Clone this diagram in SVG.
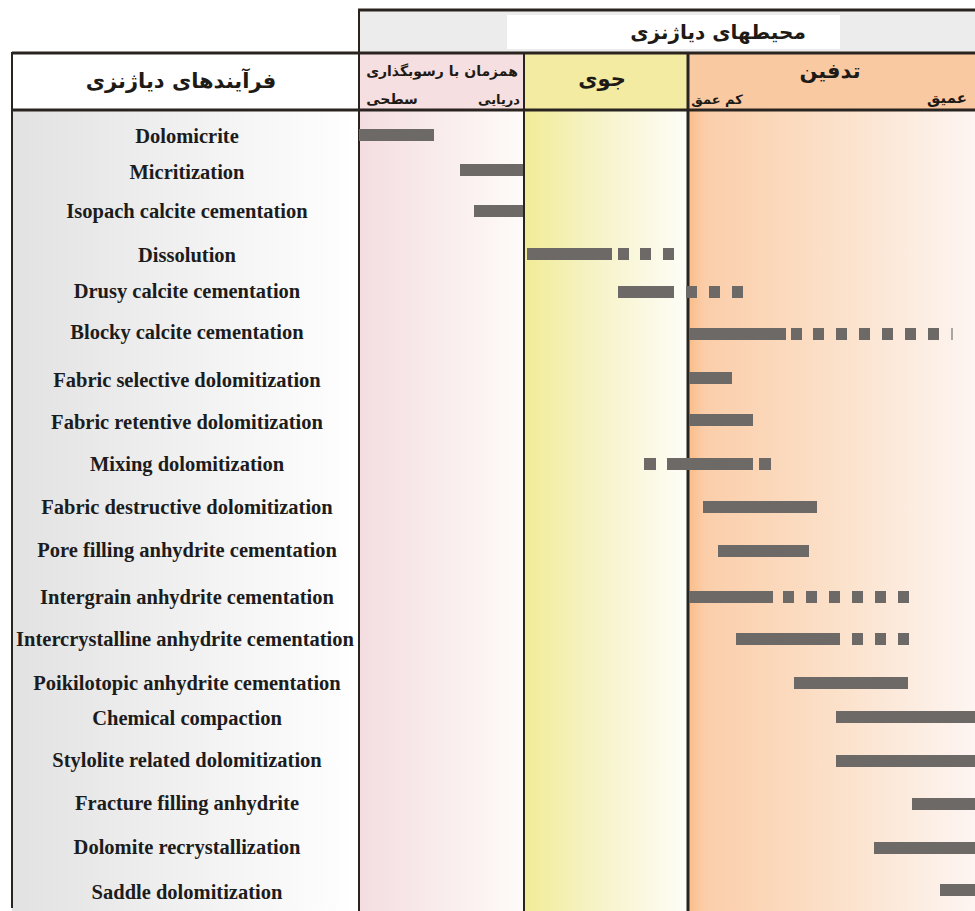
<svg xmlns="http://www.w3.org/2000/svg" width="975" height="911" viewBox="0 0 975 911">
<defs>
<linearGradient id="gLeft" x1="0" y1="0" x2="1" y2="0"><stop offset="0" stop-color="#e2e2e2"/><stop offset="1" stop-color="#ffffff"/></linearGradient>
<linearGradient id="gPink" x1="0" y1="0" x2="1" y2="0"><stop offset="0" stop-color="#f4dde1"/><stop offset="0.5" stop-color="#f9ecec"/><stop offset="1" stop-color="#fefbf9"/></linearGradient>
<linearGradient id="gYellow" x1="0" y1="0" x2="1" y2="0"><stop offset="0" stop-color="#f1ec96"/><stop offset="0.4" stop-color="#f6f2c4"/><stop offset="1" stop-color="#fefdf8"/></linearGradient>
<linearGradient id="gOrange" x1="0" y1="0" x2="1" y2="0"><stop offset="0" stop-color="#fbbd88"/><stop offset="0.06" stop-color="#fbceaa"/><stop offset="0.5" stop-color="#fbe0c8"/><stop offset="1" stop-color="#fdf5f2"/></linearGradient>
</defs>
<style>
.bar{fill:#6c6967}
.lbl{font-family:"Liberation Serif","Times New Roman",serif;font-weight:bold;font-size:20.5px;fill:#1c1c1c;text-anchor:middle}
.fa{font-family:"DejaVu Sans","Noto Sans",sans-serif;font-weight:bold;fill:#1e1a16;text-anchor:middle}
.ln{stroke:#2a2420;fill:none}
</style>
<rect x="0" y="0" width="975" height="911" fill="#ffffff"/>
<g id="backgrounds">
<rect x="12" y="110" width="347" height="801" fill="url(#gLeft)"/>
<rect x="359" y="110" width="165" height="801" fill="url(#gPink)"/>
<rect x="524" y="110" width="164" height="801" fill="url(#gYellow)"/>
<rect x="688" y="110" width="287" height="801" fill="url(#gOrange)"/>
</g>
<g id="header-top">
<rect x="359" y="10" width="616" height="43" fill="#ececec"/>
<rect x="507" y="15" width="333" height="34" fill="#ffffff"/>
<text class="fa" x="718" y="39" font-size="20">محیطهای دیاژنزی</text>
</g>
<g id="header-processes">
<rect x="12" y="53" width="347" height="57" fill="#ffffff"/>
<text class="fa" x="181" y="88" font-size="21">فرآیندهای دیاژنزی</text>
</g>
<g id="header-marine">
<rect x="359" y="53" width="165" height="57" fill="#f6dfe0"/>
<text class="fa" x="442" y="76" font-size="14">همزمان با رسوبگذاری</text>
<text class="fa" x="499" y="104" font-size="13">دریایی</text>
<text class="fa" x="392" y="104" font-size="14">سطحی</text>
</g>
<g id="header-meteoric">
<rect x="524" y="53" width="164" height="57" fill="#f3eba2"/>
<text class="fa" x="602" y="86" font-size="21">جوی</text>
</g>
<g id="header-burial">
<rect x="688" y="53" width="287" height="57" fill="#f9caa2"/>
<text class="fa" x="830" y="78" font-size="21">تدفین</text>
<text class="fa" x="717" y="104" font-size="13">کم عمق</text>
<text class="fa" x="947" y="103" font-size="15">عمیق</text>
</g>
<g id="grid">
<line class="ln" x1="358" y1="10" x2="975" y2="10" stroke-width="3"/>
<line class="ln" x1="12" y1="53" x2="975" y2="53" stroke-width="3"/>
<line class="ln" x1="12" y1="110" x2="975" y2="110" stroke-width="3"/>
<line class="ln" x1="12" y1="52" x2="12" y2="908" stroke-width="2"/>
<line class="ln" x1="359" y1="9" x2="359" y2="911" stroke-width="2"/>
<line class="ln" x1="524" y1="53" x2="524" y2="911" stroke-width="2"/>
<line class="ln" x1="688" y1="53" x2="688" y2="911" stroke-width="3"/>
</g>
<g id="r1"><text class="lbl" x="187" y="143">Dolomicrite</text><rect class="bar" x="359" y="129" width="75" height="12"/></g>
<g id="r2"><text class="lbl" x="187" y="179">Micritization</text><rect class="bar" x="460" y="164" width="63" height="12"/></g>
<g id="r3"><text class="lbl" x="187" y="218">Isopach calcite cementation</text><rect class="bar" x="474" y="205" width="49" height="12"/></g>
<g id="r4"><text class="lbl" x="187" y="262">Dissolution</text><rect class="bar" x="527" y="248" width="85" height="12"/><rect class="bar" x="618" y="248" width="11" height="12"/><rect class="bar" x="640" y="248" width="11" height="12"/><rect class="bar" x="663" y="248" width="11" height="12"/></g>
<g id="r5"><text class="lbl" x="187" y="298">Drusy calcite cementation</text><rect class="bar" x="618" y="286" width="56" height="12"/><rect class="bar" x="686" y="286" width="11" height="12"/><rect class="bar" x="709" y="286" width="11" height="12"/><rect class="bar" x="732" y="286" width="11" height="12"/></g>
<g id="r6"><text class="lbl" x="187" y="339">Blocky calcite cementation</text><rect class="bar" x="689" y="328" width="97" height="12"/><rect class="bar" x="791" y="328" width="11" height="12"/><rect class="bar" x="813" y="328" width="11" height="12"/><rect class="bar" x="836" y="328" width="11" height="12"/><rect class="bar" x="859" y="328" width="11" height="12"/><rect class="bar" x="882" y="328" width="11" height="12"/><rect class="bar" x="905" y="328" width="11" height="12"/><rect class="bar" x="928" y="328" width="11" height="12"/><rect x="951" y="328" width="2" height="12" fill="#a9a5a2"/></g>
<g id="r7"><text class="lbl" x="187" y="387">Fabric selective dolomitization</text><rect class="bar" x="689" y="372" width="43" height="12"/></g>
<g id="r8"><text class="lbl" x="187" y="429">Fabric retentive dolomitization</text><rect class="bar" x="689" y="414" width="64" height="12"/></g>
<g id="r9"><text class="lbl" x="187" y="471">Mixing dolomitization</text><rect class="bar" x="644" y="458" width="12" height="12"/><rect class="bar" x="667" y="458" width="86" height="12"/><rect class="bar" x="759" y="458" width="12" height="12"/></g>
<g id="r10"><text class="lbl" x="187" y="514">Fabric destructive dolomitization</text><rect class="bar" x="703" y="501" width="114" height="12"/></g>
<g id="r11"><text class="lbl" x="187" y="557">Pore filling anhydrite cementation</text><rect class="bar" x="718" y="545" width="91" height="12"/></g>
<g id="r12"><text class="lbl" x="187" y="604">Intergrain anhydrite cementation</text><rect class="bar" x="689" y="591" width="84" height="12"/><rect class="bar" x="783" y="591" width="11" height="12"/><rect class="bar" x="806" y="591" width="11" height="12"/><rect class="bar" x="829" y="591" width="11" height="12"/><rect class="bar" x="852" y="591" width="11" height="12"/><rect class="bar" x="875" y="591" width="11" height="12"/><rect class="bar" x="898" y="591" width="11" height="12"/></g>
<g id="r13"><text class="lbl" x="185" y="646">Intercrystalline anhydrite cementation</text><rect class="bar" x="736" y="633" width="104" height="12"/><rect class="bar" x="852" y="633" width="11" height="12"/><rect class="bar" x="875" y="633" width="11" height="12"/><rect class="bar" x="898" y="633" width="11" height="12"/></g>
<g id="r14"><text class="lbl" x="187" y="690">Poikilotopic anhydrite cementation</text><rect class="bar" x="794" y="677" width="114" height="12"/></g>
<g id="r15"><text class="lbl" x="187" y="725">Chemical compaction</text><rect class="bar" x="836" y="711" width="139" height="12"/></g>
<g id="r16"><text class="lbl" x="187" y="767">Stylolite related dolomitization</text><rect class="bar" x="836" y="755" width="139" height="12"/></g>
<g id="r17"><text class="lbl" x="187" y="810">Fracture filling anhydrite</text><rect class="bar" x="912" y="798" width="63" height="12"/></g>
<g id="r18"><text class="lbl" x="187" y="854">Dolomite recrystallization</text><rect class="bar" x="874" y="842" width="101" height="12"/></g>
<g id="r19"><text class="lbl" x="187" y="899">Saddle dolomitization</text><rect class="bar" x="940" y="884" width="35" height="12"/></g>
</svg>
